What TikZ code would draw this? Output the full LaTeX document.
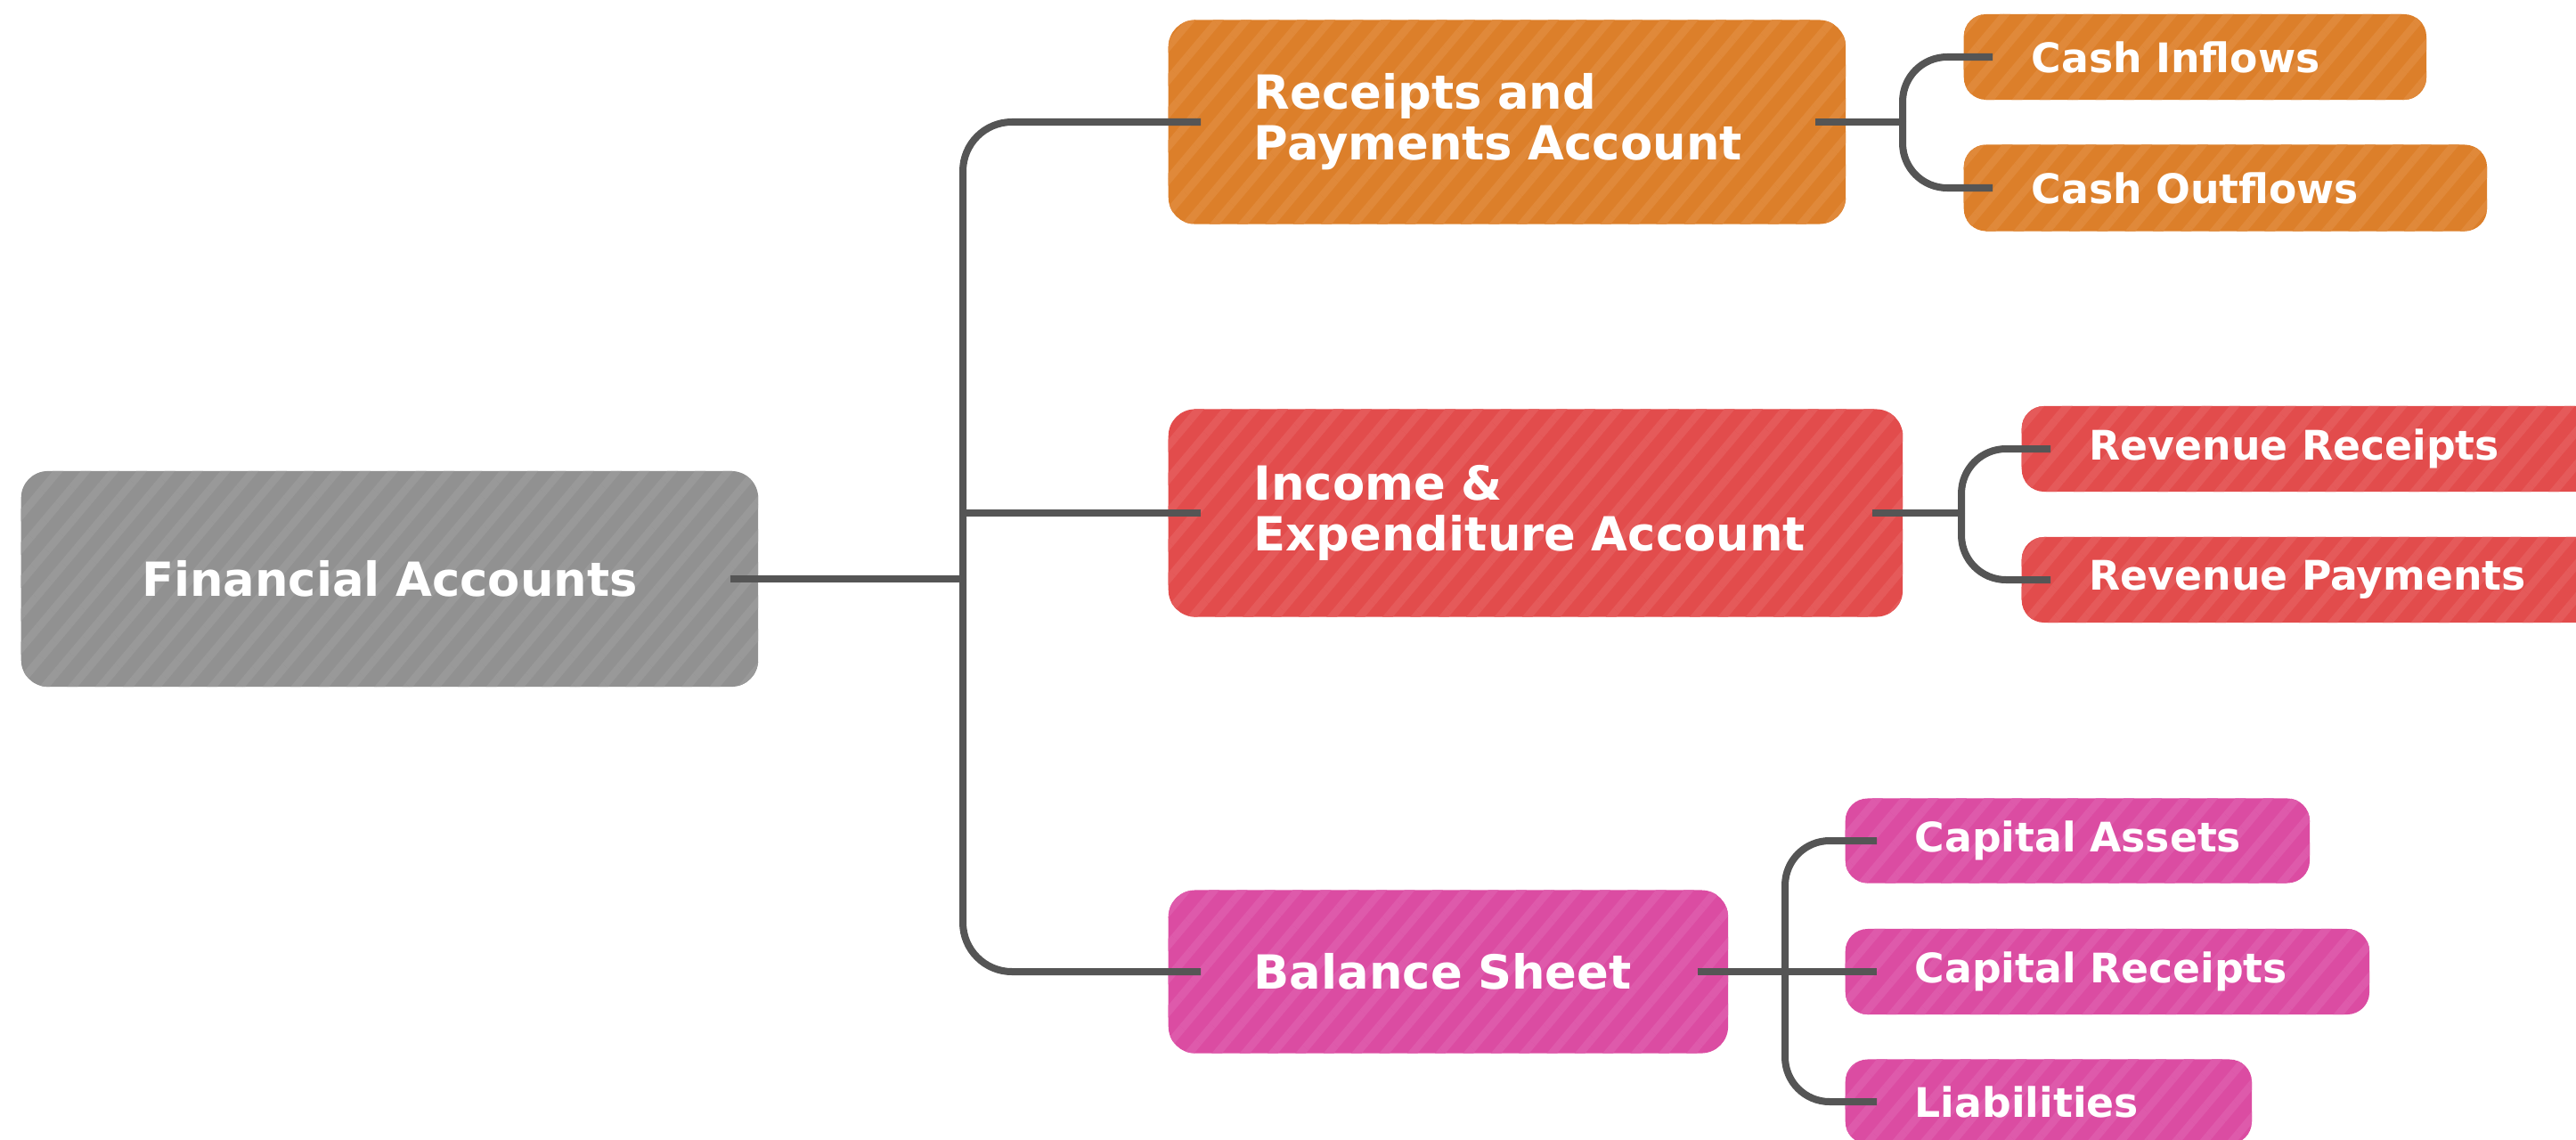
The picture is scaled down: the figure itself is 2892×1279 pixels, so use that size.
\documentclass[tikz,border=0pt]{standalone}
\usepackage{fontspec}
\setmainfont{DejaVu Sans}
\usetikzlibrary{patterns.meta}
\definecolor{cgray}{HTML}{919191}
\definecolor{cgrayL}{HTML}{999999}
\definecolor{corange}{HTML}{DC7F2A}
\definecolor{corangeL}{HTML}{E0893A}
\definecolor{cred}{HTML}{E24C4C}
\definecolor{credL}{HTML}{E55A5A}
\definecolor{cpink}{HTML}{DB4CA2}
\definecolor{cpinkL}{HTML}{DE5AAB}
\definecolor{cline}{HTML}{555555}
\tikzset{
  striped/.style={fill=#1, postaction={pattern={Lines[angle=50,distance=0.24cm,line width=0.09cm]}, pattern color=#1L}},
  basebox/.style={anchor=west, text=white, inner ysep=0pt, align=left},
  mainbox/.style={basebox, rounded corners=0.3cm, inner xsep=0.96cm,
    font=\bfseries\fontsize{15}{16.2}\selectfont},
  subbox/.style={basebox, rounded corners=0.25cm, inner xsep=0.76cm,
    font=\bfseries\fontsize{13}{15}\selectfont},
  conn/.style={draw=cline, line width=0.08cm},
}
\begin{document}
\begin{tikzpicture}[x=0.01cm,y=-0.01cm]
\useasboundingbox (0,0) rectangle (2892,1279);
\clip (0,0) rectangle (2892,1279);
% root
\node[basebox, striped=cgray, rounded corners=0.3cm, inner xsep=0.5cm, align=center,
  text width=7.27cm, minimum height=2.42cm, font=\bfseries\fontsize{15}{16.2}\selectfont]
  (FA) at (23,650) {Financial Accounts};
% main branches
\node[mainbox, striped=corange, text width=5.68cm, minimum height=2.29cm] (R) at (1311,137) {Receipts and\\Payments Account};
\node[mainbox, striped=cred, text width=6.32cm, minimum height=2.33cm] (I) at (1311,576) {Income \&\\\mbox{Expenditure Account}};
\node[mainbox, striped=cpink, text width=4.36cm, minimum height=1.83cm] (B) at (1311,1091) {Balance Sheet};
% leaves
\node[subbox, striped=corange, text width=3.67cm, minimum height=0.96cm] (CI) at (2204,64) {\mbox{Cash Inflows}};
\node[subbox, striped=corange, text width=4.35cm, minimum height=0.97cm] (CO) at (2204,211) {\mbox{Cash Outflows}};
\node[subbox, striped=cred, text width=5.68cm, minimum height=0.96cm] (RR) at (2269,504) {\mbox{Revenue Receipts}};
\node[subbox, striped=cred, text width=5.68cm, minimum height=0.96cm] (RP) at (2269,651) {\mbox{Revenue Payments}};
\node[subbox, striped=cpink, text width=3.65cm, minimum height=0.95cm, inner xsep=0.78cm] (CA) at (2071,944) {\mbox{Capital Assets}};
\node[subbox, striped=cpink, text width=4.32cm, minimum height=0.96cm, inner xsep=0.78cm] (CR) at (2071,1091) {\mbox{Capital Receipts}};
\node[subbox, striped=cpink, text width=3.00cm, minimum height=0.95cm, inner xsep=0.78cm] (L) at (2071,1237) {\mbox{Liabilities}};
% junction points
\coordinate (T) at (1081,650);
\coordinate (RB) at (2136,137);
\coordinate (IB) at (2202,576);
\coordinate (BB) at (2004,1091);
% connectors
\draw[conn] ([xshift=-0.32cm]FA.east) -- (T);
\draw[conn, rounded corners=0.55cm] ([xshift=0.37cm]R.west) -| (T);
\draw[conn, rounded corners=0.55cm] ([xshift=0.37cm]B.west) -| (T);
\draw[conn] (T |- I.west) -- ([xshift=0.37cm]I.west);
\draw[conn] ([xshift=-0.35cm]R.east) -- (RB);
\draw[conn, rounded corners=0.5cm] ([xshift=0.33cm]CI.west) -| (RB);
\draw[conn, rounded corners=0.5cm] ([xshift=0.33cm]CO.west) -| (RB);
\draw[conn] ([xshift=-0.35cm]I.east) -- (IB);
\draw[conn, rounded corners=0.5cm] ([xshift=0.33cm]RR.west) -| (IB);
\draw[conn, rounded corners=0.5cm] ([xshift=0.33cm]RP.west) -| (IB);
\draw[conn] ([xshift=-0.35cm]B.east) -- (BB);
\draw[conn, rounded corners=0.5cm] ([xshift=0.36cm]CA.west) -| (BB);
\draw[conn, rounded corners=0.5cm] ([xshift=0.36cm]L.west) -| (BB);
\draw[conn] (BB) -- ([xshift=0.36cm]CR.west);
\end{tikzpicture}
\end{document}
